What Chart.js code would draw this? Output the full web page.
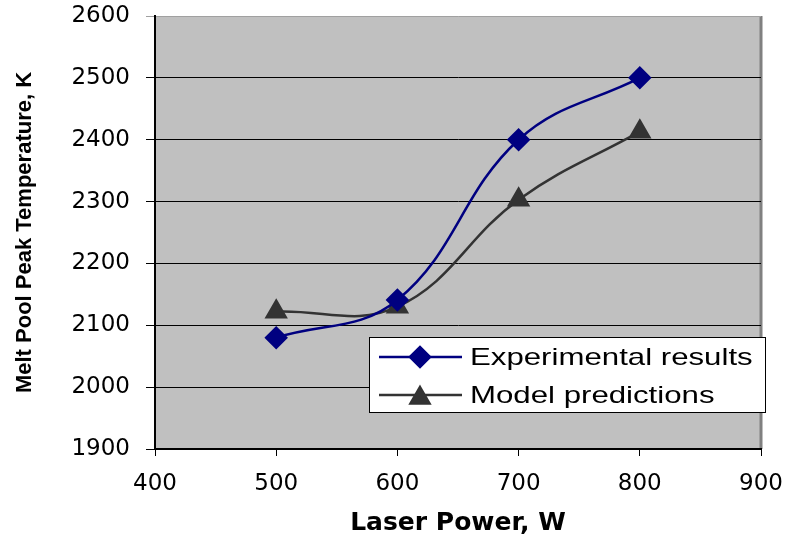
<!DOCTYPE html>
<html>
<head>
<meta charset="utf-8">
<script src="https://cdn.jsdelivr.net/npm/chart.js@4.4.0/dist/chart.umd.min.js"></script>
<style>
  html, body { margin: 0; padding: 0; background: #fff; }
  #wrap { width: 791px; height: 540px; }
</style>
</head>
<body>
<div id="wrap"><canvas id="js--temp_chart"></canvas></div>
<script>
var power = [500, 600, 700, 800];
var experimental = [2080, 2141, 2400, 2500];
var model = [2122, 2130, 2303, 2413];
var xTicks = [400, 500, 600, 700, 800, 900];
var yTicks = [1900, 2000, 2100, 2200, 2300, 2400, 2500, 2600];

function toPoints(xs, ys) {
    return xs.map(function (x, i) { return { x: x, y: ys[i] }; });
}

// gray plot area + right border
var plotBg = {
    id: 'plotBg',
    beforeDraw: function (chart) {
        var a = chart.chartArea, ctx = chart.ctx;
        ctx.save();
        ctx.fillStyle = '#c0c0c0';
        ctx.fillRect(a.left, a.top, a.right - a.left, a.bottom - a.top);
        ctx.strokeStyle = '#808080';
        ctx.lineWidth = 3;
        ctx.beginPath();
        ctx.moveTo(a.right, a.top);
        ctx.lineTo(a.right, a.bottom);
        ctx.stroke();
        ctx.restore();
    }
};

// excel style legend box inside the plot
var boxLegend = {
    id: 'boxLegend',
    afterDraw: function (chart) {
        var ctx = chart.ctx;
        var x0 = 369, y0 = 337, w = 396, h = 75;
        ctx.save();
        ctx.fillStyle = '#ffffff';
        ctx.fillRect(x0, y0, w, h);
        ctx.strokeStyle = '#000000';
        ctx.lineWidth = 1;
        ctx.strokeRect(x0 + 0.5, y0 + 0.5, w, h);
        chart.data.datasets.forEach(function (ds, i) {
            var y = 357 + i * 38;
            ctx.strokeStyle = ds.borderColor;
            ctx.lineWidth = 2.5;
            ctx.beginPath();
            ctx.moveTo(379, y);
            ctx.lineTo(462, y);
            ctx.stroke();
            Chart.helpers.drawPoint(ctx, {
                pointStyle: ds.pointStyle,
                radius: ds.pointRadius,
                borderWidth: 1
            }, 420, i == 1 ? y + 3 : y);
            ctx.fillStyle = ds.pointBackgroundColor;
            ctx.fill();
            ctx.fillStyle = '#000000';
            ctx.font = '24px "Liberation Sans", Arial, sans-serif';
            ctx.textBaseline = 'middle';
            ctx.translate(470, y);
            ctx.scale(1.3, 1);
            ctx.fillText(ds.label, 0, 1);
            ctx.setTransform(chart.currentDevicePixelRatio, 0, 0, chart.currentDevicePixelRatio, 0, 0);
        });
        ctx.restore();
    }
};

var cntxt = document.getElementById('js--temp_chart');

var myChart = new Chart(cntxt, {
    type: 'line',
    data: {
        datasets: [
            {
                label: 'Experimental results',
                data: toPoints(power, experimental),
                borderColor: '#000080',
                backgroundColor: '#000080',
                pointBackgroundColor: '#000080',
                pointBorderColor: '#000080',
                pointStyle: 'rectRot',
                pointRadius: 10,
                borderWidth: 2.5,
                tension: 0.4,
                fill: false
            },
            {
                label: 'Model predictions',
                data: toPoints(power, model),
                borderColor: '#333333',
                backgroundColor: '#333333',
                pointBackgroundColor: '#333333',
                pointBorderColor: '#333333',
                pointStyle: 'triangle',
                pointRadius: 11,
                borderWidth: 2.5,
                tension: 0.4,
                fill: false
            }
        ]
    },
    options: {
        responsive: true,
        maintainAspectRatio: false,
        animation: false,
        layout: { padding: { top: 16, right: 30, left: 0, bottom: 0 } },
        plugins: {
            legend: { display: false },
            tooltip: { enabled: false }
        },
        scales: {
            x: {
                type: 'linear',
                min: 400,
                max: 900,
                afterBuildTicks: function (s) { s.ticks = xTicks.map(function (v) { return { value: v }; }); },
                afterFit: function (s) { s.height = 91; s.paddingLeft = 0; s.paddingRight = 0; },
                border: { color: '#000000', width: 2 },
                grid: { drawOnChartArea: false, drawTicks: true, tickLength: 7, color: '#000000' },
                ticks: {
                    color: '#000000',
                    padding: 14,
                    maxRotation: 0,
                    callback: function (v) { return String(v); },
                    font: { family: '"DejaVu Sans", sans-serif', size: 23 }
                },
                title: {
                    display: true,
                    text: 'Laser Power, W',
                    color: '#000000',
                    padding: { top: 0, bottom: 2 },
                    font: { family: '"DejaVu Sans", sans-serif', size: 25, weight: 'bold' }
                }
            },
            y: {
                min: 1900,
                max: 2600,
                afterBuildTicks: function (s) { s.ticks = yTicks.map(function (v) { return { value: v }; }); },
                afterFit: function (s) { s.width = 155; s.paddingTop = 0; s.paddingBottom = 0; },
                border: { color: '#000000', width: 2 },
                grid: {
                    color: function (c) { return c.tick && c.tick.value === 2600 ? '#a0a0a0' : '#000000'; },
                    lineWidth: 1,
                    tickLength: 9
                },
                ticks: {
                    color: '#000000',
                    padding: 16,
                    callback: function (v) { return String(v); },
                    font: { family: '"DejaVu Sans", sans-serif', size: 23 }
                },
                title: {
                    display: true,
                    text: 'Melt Pool Peak Temperature, K',
                    color: '#000000',
                    padding: { top: 12, bottom: 0 },
                    font: { family: '"Liberation Sans", Arial, sans-serif', size: 22, weight: 'bold' }
                }
            }
        }
    },
    plugins: [plotBg, boxLegend]
});
</script>
</body>
</html>
